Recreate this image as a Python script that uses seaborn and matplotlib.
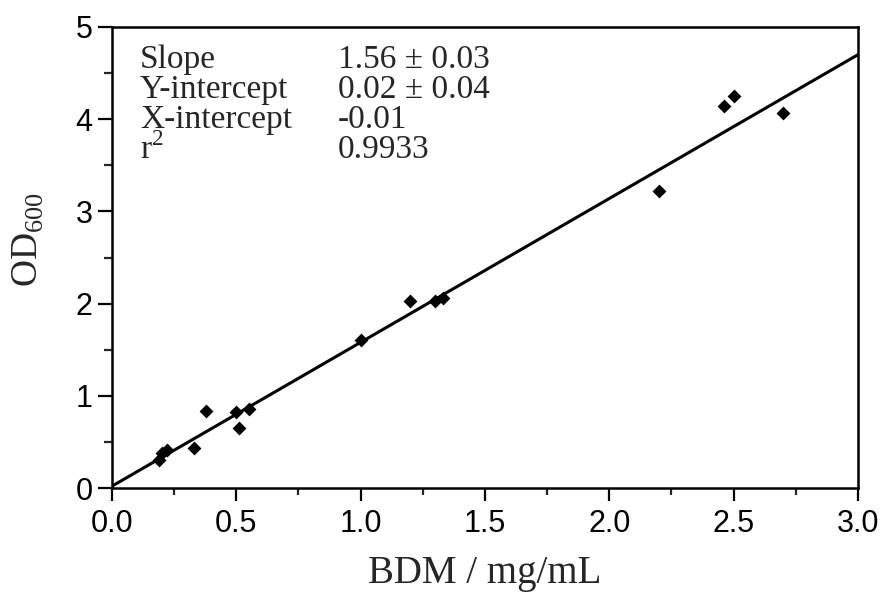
import matplotlib
matplotlib.use("Agg")
import matplotlib.pyplot as plt
from matplotlib.ticker import MultipleLocator
import seaborn as sns
import pandas as pd

# Data
bdm = [0.19, 0.20, 0.22, 0.33, 0.38, 0.50, 0.51, 0.55, 1.00, 1.20, 1.30, 1.33, 2.20, 2.46, 2.50, 2.70]
od600 = [0.30, 0.38, 0.41, 0.43, 0.83, 0.82, 0.65, 0.86, 1.61, 2.03, 2.03, 2.06, 3.22, 4.14, 4.25, 4.07]

slope = 1.56
intercept = 0.02
fit_x = [0.0, 3.0]

stat_names = ["Slope", "Y-intercept", "X-intercept", "r$^{\\mathregular{2}}$"]
stat_values = ["1.56 \u00b1 0.03", "0.02 \u00b1 0.04", "-0.01", "0.9933"]

x_ticks = [0.0, 0.5, 1.0, 1.5, 2.0, 2.5, 3.0]
y_ticks = [0, 1, 2, 3, 4, 5]

sns.set_style("ticks")
plt.rcParams["font.family"] = ["Liberation Sans", "DejaVu Sans"]

df = pd.DataFrame({"BDM": bdm, "OD": od600})
fit_df = pd.DataFrame({"x": fit_x, "y": [slope * v + intercept for v in fit_x]})

fig = plt.figure(figsize=(8.87, 5.96), dpi=100)
ax = fig.add_axes([112 / 887, 1 - 488 / 596, 746 / 887, 461 / 596])

sns.lineplot(data=fit_df, x="x", y="y", ax=ax, color="black", linewidth=2.2)
sns.scatterplot(data=df, x="BDM", y="OD", ax=ax, marker="D", color="black",
                s=50, edgecolor="black", linewidth=0, zorder=3)

ax.set_xlim(0, 3.0)
ax.set_ylim(0, 5)
ax.set_xticks(x_ticks)
ax.set_xticklabels([f"{v:.1f}" for v in x_ticks])
ax.set_yticks(y_ticks)
ax.set_yticklabels([str(v) for v in y_ticks])
ax.xaxis.set_minor_locator(MultipleLocator(0.25))
ax.yaxis.set_minor_locator(MultipleLocator(0.5))

for s in ax.spines.values():
    s.set_visible(True)
    s.set_linewidth(1.8)
    s.set_color("black")

ax.tick_params(axis="x", which="major", direction="out", length=9, width=1.6,
               labelsize=22, pad=6, colors="black")
ax.tick_params(axis="x", which="minor", direction="out", length=5, width=1.6)
ax.tick_params(axis="y", which="major", direction="out", length=10, width=1.6,
               labelsize=22, pad=4, colors="black")
ax.tick_params(axis="y", which="minor", direction="out", length=6, width=1.6)

serif = ["Liberation Serif", "DejaVu Serif"]
ax.set_xlabel("BDM / mg/mL", family=serif, fontsize=28, labelpad=12)
ax.set_ylabel("OD$_{\\mathregular{600}}$", family=serif, fontsize=27)
ax.yaxis.set_label_coords(-0.088, 0.54)

ys = [0.928, 0.863, 0.798, 0.733]
for name, val, yy in zip(stat_names, stat_values, ys):
    ax.text(0.0375, yy, name, transform=ax.transAxes, family=serif, fontsize=24,
            va="center", ha="left")
    ax.text(0.303, yy, val, transform=ax.transAxes, family=serif, fontsize=24,
            va="center", ha="left")

fig.savefig("out.png", dpi=100)
